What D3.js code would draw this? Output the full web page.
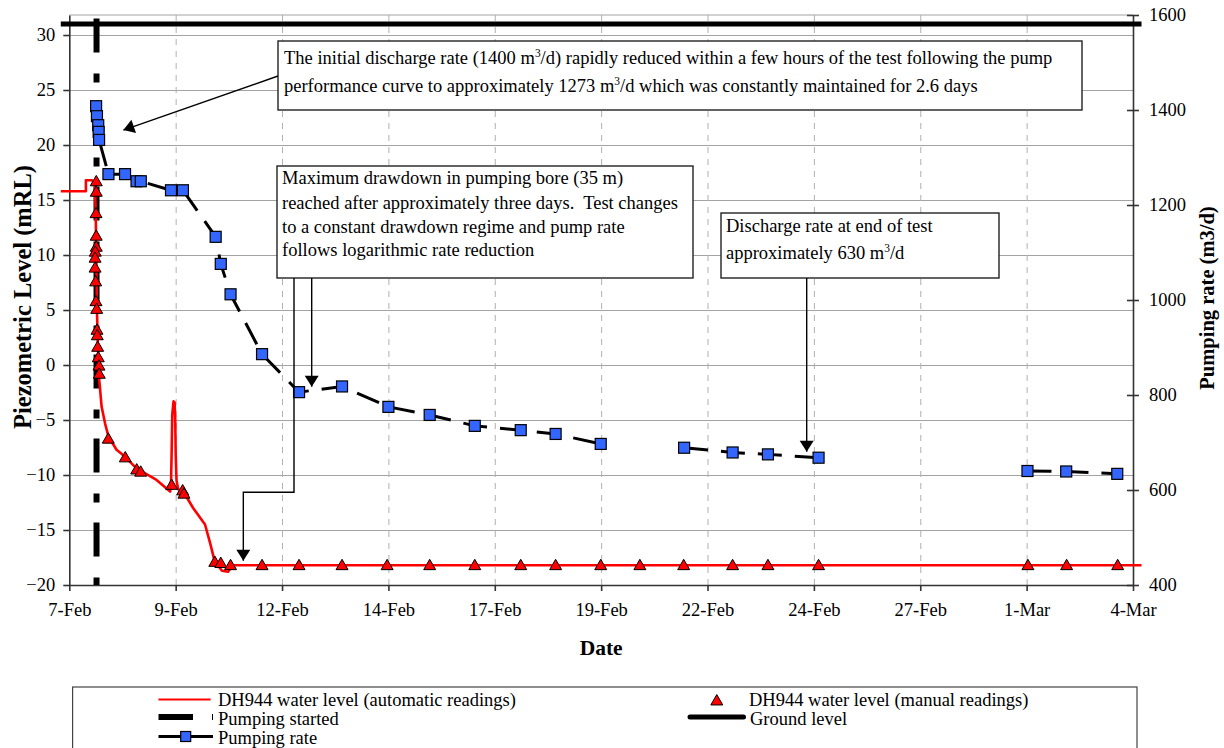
<!DOCTYPE html>
<html>
<head>
<meta charset="utf-8">
<script src="https://cdn.jsdelivr.net/npm/d3@7"></script>
<style>
  body { margin: 0; background: #fff; }
  svg text { font-family: "Liberation Serif", "Times New Roman", serif; fill: #000; white-space: pre; }
</style>
</head>
<body>
<svg id="chart" width="1224" height="748"></svg>
<script>
// all times are days after 7-Feb 00:00
const autoDays = [-0.2, 0.39, 0.39, 0.53, 0.60, 0.62, 0.635, 0.65, 0.67, 0.69, 0.705, 0.76, 0.84, 0.92, 1.11, 1.27, 1.58, 2.05,
  2.37, 2.39, 2.405, 2.42, 2.45, 2.475, 2.49, 2.50, 2.52, 2.56, 2.68, 2.91, 3.19, 3.31, 3.42, 3.59, 3.73, 3.85, 25.2];
const autoLevel = [15.8, 15.8, 16.8, 16.8, 16.5, 14, 10, 5, 2, 0, -1.4, -3.8, -5.3, -6.5, -7.7, -8.2, -9.4, -10.45,
  -11.5, -10.9, -8, -4.5, -3.3, -3.4, -5, -8, -10.5, -11.3, -11.5, -13.0, -14.5, -16.2, -17.9, -18.7, -18.8, -18.2, -18.2];

const manualDays = [0.634, 0.634, 0.628, 0.632, 0.634, 0.61, 0.606, 0.606, 0.62, 0.627, 0.644, 0.651, 0.658, 0.667, 0.681, 0.698, 0.705,
  0.916, 1.316, 1.584, 1.678, 2.406, 2.664, 2.695, 3.42, 3.56, 3.79, 4.53, 5.40, 6.41, 7.47, 8.47, 9.53, 10.61, 11.43, 12.49,
  13.41, 14.44, 15.59, 16.42, 17.61, 22.53, 23.44, 24.64];
const manualLevel = [16.7, 15.75, 13.8, 11.75, 10.75, 10.3, 9.75, 8.85, 7.6, 5.8, 5.1, 3.2, 2.7, 1.65, 0.7, -0.06, -0.8,
  -6.7, -8.4, -9.5, -9.7, -10.9, -11.4, -11.7, -17.9, -18.0, -18.2, -18.2, -18.2, -18.2, -18.2, -18.2, -18.2, -18.2, -18.2, -18.2,
  -18.2, -18.2, -18.2, -18.2, -18.2, -18.2, -18.2, -18.2];

// null = no reading (line breaks)
const rateDays = [0.63, 0.65, 0.68, 0.69, 0.70, 0.92, 1.31, 1.58, 1.68, 2.39, 2.67, 3.44, 3.56, 3.79, 4.53, 5.40, 6.41,
  7.50, 8.47, 9.53, 10.61, 11.43, 12.49, 13.4, 14.45, 15.59, 16.42, 17.61, 20.0, 22.52, 23.43, 24.63];
const rateValues = [1408, 1387, 1368, 1354, 1337, 1265, 1265, 1250, 1250, 1231, 1231, 1133, 1076, 1012, 886, 806, 818,
  775, 758, 735, 726, 718, 697, null, 689, 679, 675, 668, null, 640, 639, 634];

const pumpStartDay = 0.64;
const pumpStartRange = [-20, 31.5];
const groundDays = [-0.2, 25.2];
const groundLevel = 31.0;

const xTickDays = d3.range(0, 25.01, 2.5);
const leftTicks = d3.range(-20, 31, 5);
const rightTicks = d3.range(400, 1601, 200);

const notes = [
  { box: [278, 41, 804, 69], textX: 284, lineY: [64, 92],
    lines: ["The initial discharge rate (1400 m^3/d) rapidly reduced within a few hours of the test following the pump",
            "performance curve to approximately 1273 m^3/d which was constantly maintained for 2.6 days"] },
  { box: [277, 166, 416, 112], textX: 282, lineY: [184, 209, 233, 256],
    lines: ["Maximum drawdown in pumping bore (35 m)",
            "reached after approximately three days.  Test changes",
            "to a constant drawdown regime and pump rate",
            "follows logarithmic rate reduction"] },
  { box: [721, 213, 278, 65], textX: 726, lineY: [232, 259],
    lines: ["Discharge rate at end of test", "approximately 630 m^3/d"] }
];

const legendItems = ["DH944 water level (automatic readings)", "Pumping started", "Pumping rate",
  "DH944 water level (manual readings)", "Ground level"];

const plot = { left: 69.3, right: 1133, top: 15, bottom: 585 };
const t0 = Date.UTC(2009, 1, 7);
const toDate = d => new Date(t0 + d * 864e5);
const serif = '"Liberation Serif", "Times New Roman", serif';

const svg = d3.select('#chart');

const x = d3.scaleUtc().domain([toDate(0), toDate(25)]).range([plot.left, plot.right]);
const yL = d3.scaleLinear().domain([-20, 31.82]).range([plot.bottom, plot.top]);
const yR = d3.scaleLinear().domain([400, 1600]).range([plot.bottom, plot.top]);

// grid lines
svg.append('g')
  .attr('transform', `translate(${plot.left},0)`)
  .call(d3.axisLeft(yL).tickValues(leftTicks.slice(1)).tickSize(-(plot.right - plot.left)).tickFormat(''))
  .call(g => g.select('.domain').remove())
  .selectAll('line').attr('stroke', '#a3a3a3').attr('stroke-width', 1.2);

svg.append('line')
  .attr('x1', plot.left).attr('x2', plot.right)
  .attr('y1', plot.top).attr('y2', plot.top)
  .attr('stroke', '#a3a3a3').attr('stroke-width', 1.2);

svg.append('g')
  .attr('transform', `translate(0,${plot.bottom})`)
  .call(d3.axisBottom(x).tickValues(xTickDays.slice(1, -1).map(toDate)).tickSize(-(plot.bottom - plot.top)).tickFormat(''))
  .call(g => g.select('.domain').remove())
  .selectAll('line').attr('stroke', '#b0b0b0').attr('stroke-dasharray', '6,6');

// axes
const tickFont = 18.5;
function styleAxis(g) {
  g.attr('font-family', serif).attr('font-size', tickFont);
  g.selectAll('text').style('font-family', serif).attr('font-size', tickFont);
  g.selectAll('line, path').attr('stroke', '#333').attr('stroke-width', 1.6);
}

svg.append('g')
  .attr('transform', `translate(${plot.left},0)`)
  .call(d3.axisLeft(yL).tickValues(leftTicks).tickSize(6).tickSizeOuter(0).tickPadding(8))
  .call(styleAxis);

svg.append('g')
  .attr('transform', `translate(${plot.right},0)`)
  .call(d3.axisRight(yR).tickValues(rightTicks).tickFormat(d3.format('d')).tickSize(6).tickSizeOuter(0).tickPadding(10))
  .call(g => g.selectAll('.tick line').attr('x1', -6))
  .call(styleAxis);

svg.append('g')
  .attr('transform', `translate(0,${plot.bottom})`)
  .call(d3.axisBottom(x).tickValues(xTickDays.map(toDate)).tickFormat(d3.utcFormat('%-d-%b')).tickSize(6).tickSizeOuter(0).tickPadding(12))
  .call(styleAxis);

// axis titles
svg.append('text')
  .attr('transform', 'translate(22,297) rotate(-90)')
  .attr('text-anchor', 'middle').attr('dy', '0.35em')
  .attr('font-size', 24.5).attr('font-weight', 'bold')
  .text('Piezometric Level (mRL)');

svg.append('text')
  .attr('transform', 'translate(1207,298) rotate(-90)')
  .attr('text-anchor', 'middle').attr('dy', '0.35em')
  .attr('font-size', 20.5).attr('font-weight', 'bold')
  .text('Pumping rate (m3/d)');

svg.append('text')
  .attr('x', (plot.left + plot.right) / 2).attr('y', 655)
  .attr('text-anchor', 'middle')
  .attr('font-size', 21.5).attr('font-weight', 'bold')
  .text('Date');

// pumping started
svg.append('path')
  .attr('d', d3.line()([[x(toDate(pumpStartDay)), yL(pumpStartRange[1])], [x(toDate(pumpStartDay)), yL(pumpStartRange[0])]]))
  .attr('stroke', '#000').attr('stroke-width', 6)
  .attr('stroke-dasharray', '34,21,9,20');

// automatic readings
const autoData = autoDays.map((d, i) => ({ t: toDate(d), v: autoLevel[i] }));
svg.append('path')
  .datum(autoData)
  .attr('fill', 'none')
  .attr('stroke', '#ff0000')
  .attr('stroke-width', 2.6)
  .attr('stroke-linejoin', 'round')
  .attr('d', d3.line().x(d => x(d.t)).y(d => yL(d.v)));

// manual readings
const tri = d3.symbol().type(d3.symbolTriangle).size(62);
const manualData = manualDays.map((d, i) => ({ t: toDate(d), v: manualLevel[i] }));
svg.selectAll('.manual')
  .data(manualData)
  .enter()
  .append('path')
  .attr('class', 'manual')
  .attr('transform', d => `translate(${x(d.t)},${yL(d.v) + 1})`)
  .attr('d', tri)
  .attr('fill', '#ff0000')
  .attr('stroke', '#000')
  .attr('stroke-width', 1);

// pumping rate
const rateData = rateDays.map((d, i) => ({ t: toDate(d), v: rateValues[i] }));
svg.append('path')
  .datum(rateData)
  .attr('fill', 'none')
  .attr('stroke', '#000')
  .attr('stroke-width', 3)
  .attr('stroke-dasharray', '24,13')
  .attr('d', d3.line().defined(d => d.v !== null).x(d => x(d.t)).y(d => yR(d.v)));

svg.selectAll('.rate')
  .data(rateData.filter(d => d.v !== null))
  .enter()
  .append('rect')
  .attr('class', 'rate')
  .attr('x', d => x(d.t) - 5.5)
  .attr('y', d => yR(d.v) - 5.5)
  .attr('width', 11).attr('height', 11)
  .attr('fill', '#3366ff')
  .attr('stroke', '#000')
  .attr('stroke-width', 1.2);

// ground level
svg.append('path')
  .attr('d', d3.line()(groundDays.map(d => [x(toDate(d)), yL(groundLevel)])))
  .attr('stroke', '#000').attr('stroke-width', 5);

// annotation boxes
function addText(g, str, xPos, yPos, size) {
  const t = g.append('text').attr('x', xPos).attr('y', yPos).attr('font-size', size);
  str.split('^3').forEach((part, i) => {
    if (i > 0) t.append('tspan').attr('dy', -7).attr('font-size', size * 0.62).text('3');
    t.append('tspan').attr('dy', i > 0 ? 7 : 0).text(part);
  });
  return t;
}

notes.forEach(n => {
  svg.append('rect')
    .attr('x', n.box[0]).attr('y', n.box[1])
    .attr('width', n.box[2]).attr('height', n.box[3])
    .attr('fill', '#fff').attr('stroke', '#222').attr('stroke-width', 1.4);
  n.lines.forEach((l, i) => addText(svg, l, n.textX, n.lineY[i], 18.5));
});

// arrows: start on a box edge, end on a point of the chart
function arrow(points) {
  svg.append('path')
    .attr('d', d3.line()(points))
    .attr('fill', 'none').attr('stroke', '#000').attr('stroke-width', 1.4);
  const [p, q] = points.slice(-2);
  const a = Math.atan2(q[1] - p[1], q[0] - p[0]);
  const len = 11, half = 7;
  const bx = q[0] - len * Math.cos(a), by = q[1] - len * Math.sin(a);
  svg.append('path')
    .attr('d', d3.line()([q,
      [bx + half * Math.sin(a), by - half * Math.cos(a)],
      [bx - half * Math.sin(a), by + half * Math.cos(a)]]) + 'Z')
    .attr('fill', '#000');
}

arrow([[278, 76], [x(toDate(1.27)), yL(21.36)]]);
arrow([[311.7, 278], [311.7, yL(-1.97)]]);
arrow([[294, 278], [294, yL(-11.57)], [x(toDate(4.09)), yL(-11.57)], [x(toDate(4.09)), yL(-17.79)]]);
arrow([[806.7, 278], [806.7, yL(-7.88)]]);

// legend
const lg = svg.append('g');
lg.append('rect')
  .attr('x', 72.6).attr('y', 687).attr('width', 1064.4).attr('height', 80)
  .attr('fill', '#fff').attr('stroke', '#444').attr('stroke-width', 1.2);

lg.append('line').attr('x1', 158.5).attr('x2', 210.6).attr('y1', 699.5).attr('y2', 699.5)
  .attr('stroke', '#ff0000').attr('stroke-width', 2);
lg.append('line').attr('x1', 158.5).attr('x2', 193).attr('y1', 717).attr('y2', 717)
  .attr('stroke', '#000').attr('stroke-width', 6);
lg.append('line').attr('x1', 212.5).attr('x2', 212.5).attr('y1', 714).attr('y2', 720)
  .attr('stroke', '#000').attr('stroke-width', 1);
lg.append('line').attr('x1', 158.5).attr('x2', 213).attr('y1', 736.5).attr('y2', 736.5)
  .attr('stroke', '#000').attr('stroke-width', 3);
lg.append('rect').attr('x', 185.7 - 5).attr('y', 736.5 - 5).attr('width', 10).attr('height', 10)
  .attr('fill', '#3366ff').attr('stroke', '#000').attr('stroke-width', 1.2);
lg.append('path').attr('transform', 'translate(716.8,701.5)').attr('d', tri)
  .attr('fill', '#ff0000').attr('stroke', '#000').attr('stroke-width', 1);
lg.append('line').attr('x1', 690).attr('x2', 743.5).attr('y1', 717).attr('y2', 717)
  .attr('stroke', '#000').attr('stroke-width', 5).attr('stroke-linecap', 'round');

const legendPos = [[218, 706], [218, 725], [218, 744], [749, 706], [750, 725]];
legendItems.forEach((s, i) => {
  lg.append('text').attr('x', legendPos[i][0]).attr('y', legendPos[i][1])
    .attr('font-size', 18.5).text(s);
});
</script>
</body>
</html>
